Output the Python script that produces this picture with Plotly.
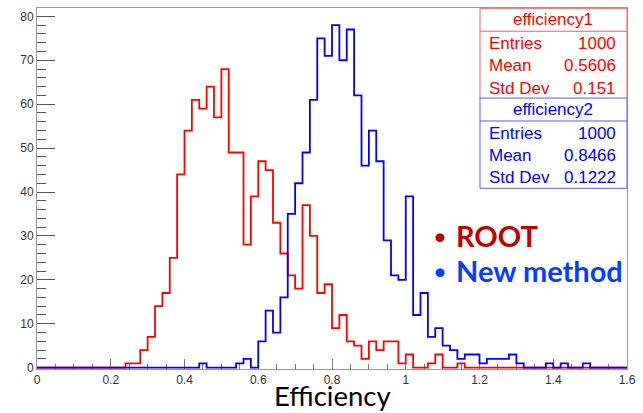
import numpy as np
import plotly.graph_objects as go

# Histogram binning: 80 bins of width 0.02 over [0, 1.6]
x_min, x_max, n_bins = 0.0, 1.6, 80
edges = np.linspace(x_min, x_max, n_bins + 1)

# Bin contents, efficiency1 (ROOT)
eff1_counts = [
    0, 0, 0, 0, 0, 0, 0, 0, 0, 0,
    0, 0, 1, 1, 4, 7, 14, 17, 25, 44,
    54, 61, 59, 64, 57, 68, 49, 49, 28, 39,
    47, 45, 33, 26, 21, 18, 37, 30, 17, 19,
    9, 12, 6, 5, 2, 6, 4, 6, 6, 1,
    3, 0, 0, 1, 3, 0, 0, 1, 0, 0,
    0, 0, 0, 0, 0, 0, 0, 0, 0, 0,
    0, 0, 0, 0, 0, 0, 0, 0, 0, 0,
]

# Bin contents, efficiency2 (new method)
eff2_counts = [
    0, 0, 0, 0, 0, 0, 0, 0, 0, 0,
    0, 0, 0, 0, 0, 0, 0, 0, 0, 0,
    0, 0, 1, 0, 0, 0, 0, 1, 2, 0,
    6, 13, 8, 16, 35, 42, 49, 61, 75, 71,
    78, 70, 77, 62, 46, 54, 47, 29, 21, 20,
    39, 12, 17, 7, 9, 5, 4, 2, 3, 3,
    1, 2, 2, 2, 3, 1, 0, 0, 0, 1,
    0, 1, 0, 0, 1, 0, 0, 0, 0, 0,
]

# Statistics box contents
stats = [
    ("efficiency1", "1000", "0.5606", "0.151"),
    ("efficiency2", "1000", "0.8466", "0.1222"),
]

x_ticks = [0, 0.2, 0.4, 0.6, 0.8, 1.0, 1.2, 1.4, 1.6]
x_tick_text = ["0", "0.2", "0.4", "0.6", "0.8", "1", "1.2", "1.4", "1.6"]
y_ticks = [0, 10, 20, 30, 40, 50, 60, 70, 80]
y_tick_text = ["0", "10", "20", "30", "40", "50", "60", "70", "80"]

legend_items = [("ROOT", "#c00000"), ("New method", "#0a3cff")]
x_title = "Efficiency"

# ---------------------------------------------------------------------------
W, H = 643, 413
L, R, T, B = 37, 629, 7, 369          # plot area in pixels

NARROW = "Liberation Sans Narrow, Arial Narrow, Liberation Sans, sans-serif"


def fx(px):
    return (px - L) / (R - L)


def fy(py):
    return (B - py) / (B - T)


def step_trace(counts, color):
    xs = list(edges[:-1]) + [edges[-1]]
    ys = list(counts) + [counts[-1]]
    return go.Scatter(x=xs, y=ys, mode="lines", line_shape="hv",
                      line=dict(color=color, width=1.8),
                      hoverinfo="skip", showlegend=False)


fig = go.Figure()
fig.add_trace(step_trace(eff1_counts, "#ff0000"))
fig.add_trace(step_trace(eff2_counts, "#0000ff"))

tick_font = dict(family=NARROW, size=12, color="#333333")
frame_col = "#9a9a9a"

fig.update_layout(
    width=W, height=H,
    margin=dict(l=L, r=W - R, t=T, b=H - B),
    paper_bgcolor="white", plot_bgcolor="white",
    xaxis=dict(range=[x_min, x_max], tickvals=x_ticks, ticktext=x_tick_text,
               ticks="inside", ticklen=10, tickwidth=1, tickcolor="#777777",
               minor=dict(ticks="inside", dtick=0.05, ticklen=5, tickcolor="#777777"),
               showgrid=False, zeroline=False, showline=True, linecolor=frame_col,
               linewidth=1, mirror=True, tickfont=tick_font, layer="below traces"),
    yaxis=dict(range=[-0.3, 81.9], tickvals=y_ticks, ticktext=y_tick_text,
               ticks="inside", ticklen=18, tickwidth=1, tickcolor="#555555",
               minor=dict(ticks="inside", dtick=2, ticklen=9, tickcolor="#555555"),
               showgrid=False, zeroline=False, showline=True, linecolor=frame_col,
               linewidth=1, mirror=True, tickfont=tick_font, layer="below traces"),
)

shapes = []
annotations = []

# Statistics boxes
box_left, box_right = 481.5, 629
box_tops = [7.3, 97.3]
box_cols = [("#ff0000", "#ff5a5a"), ("#0000ff", "#5a5aff")]
for (name, entries, mean, std), top, (tcol, bcol) in zip(stats, box_tops, box_cols):
    bottom = top + 90.5
    hdr = top + 23
    shapes.append(dict(type="rect", xref="paper", yref="paper",
                       x0=fx(box_left), x1=fx(box_right), y0=fy(bottom), y1=fy(top),
                       line=dict(color=bcol, width=1), fillcolor="white", layer="above"))
    shapes.append(dict(type="line", xref="paper", yref="paper",
                       x0=fx(box_left), x1=fx(box_right), y0=fy(hdr), y1=fy(hdr),
                       line=dict(color=bcol, width=1), layer="above"))
    f = dict(family=NARROW, size=17, color=tcol)
    annotations.append(dict(x=fx((box_left + box_right) / 2 - 1), y=fy(top + 11.5),
                            xref="paper", yref="paper", text=name, showarrow=False,
                            xanchor="center", yanchor="middle", font=f))
    rows = [("Entries", entries), ("Mean", mean), ("Std Dev", std)]
    for k, (lab, val) in enumerate(rows):
        yc = hdr + 12.5 + 22.3 * k
        annotations.append(dict(x=fx(489), y=fy(yc), xref="paper", yref="paper",
                                text=lab, showarrow=False, xanchor="left",
                                yanchor="middle", font=f))
        annotations.append(dict(x=fx(620), y=fy(yc), xref="paper", yref="paper",
                                text=val, showarrow=False, xanchor="right",
                                yanchor="middle", font=f))

# Method labels with bullets
for k, (lab, col) in enumerate(legend_items):
    yc = 235.5 + 35 * k
    annotations.append(dict(x=fx(441), y=fy(yc), xref="paper", yref="paper",
                            text="•", showarrow=False, xanchor="center",
                            yanchor="middle",
                            font=dict(family="Lato, sans-serif", size=24, color=col)))
    annotations.append(dict(x=fx(455), y=fy(yc), xref="paper", yref="paper",
                            text="<b>%s</b>" % lab, showarrow=False, xanchor="left",
                            yanchor="middle",
                            font=dict(family="Lato, sans-serif", size=29, color=col)))

# Axis title
annotations.append(dict(x=fx(333), y=fy(396), xref="paper", yref="paper",
                        text=x_title, showarrow=False, xanchor="center",
                        yanchor="middle",
                        font=dict(family="Lato, sans-serif", size=27.5, color="black")))

fig.update_layout(shapes=shapes, annotations=annotations)
fig.write_html("out.html")
